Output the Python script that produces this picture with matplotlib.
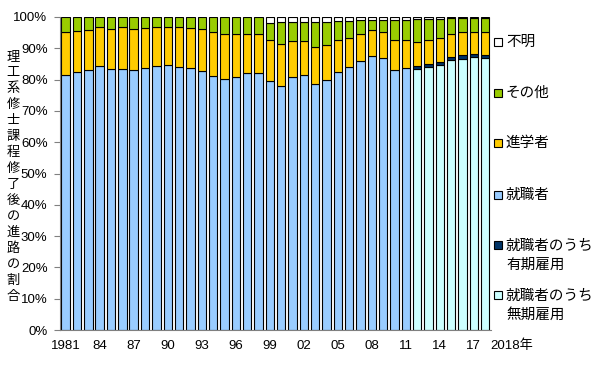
import numpy as np
import matplotlib
matplotlib.use("Agg")
import matplotlib.pyplot as plt
from matplotlib.patches import Rectangle

plt.rcParams['font.family'] = ['Liberation Sans', 'Noto Sans CJK JP']

years = np.arange(1981, 2019)

# 就職者 (until 2011, split afterwards)
shushoku = [81.6, 82.5, 83.0, 84.4, 83.5, 83.4, 83.0, 83.6, 84.3, 84.7,
            83.9, 83.7, 82.6, 81.2, 80.3, 80.9, 82.2, 82.1, 79.7, 78.1,
            80.7, 81.3, 78.7, 79.9, 82.4, 84.0, 85.8, 87.5, 87.0, 83.1,
            83.7, 0, 0, 0, 0, 0, 0, 0]
# 就職者のうち無期雇用
muki = [0] * 31 + [83.5, 84.0, 84.7, 86.1, 86.7, 87.2, 87.0]
# 就職者のうち有期雇用
yuki = [0] * 31 + [0.85, 1.1, 0.85, 1.1, 1.1, 0.85, 0.75]
shingaku = [13.6, 13.1, 12.7, 12.4, 12.7, 13.3, 13.0, 12.9, 12.4, 12.2,
            12.9, 12.9, 13.4, 14.0, 14.1, 13.6, 12.5, 12.4, 12.8, 13.1,
            11.5, 10.9, 11.7, 11.2, 10.1, 9.3, 8.6, 8.2, 8.2, 9.4,
            8.8, 7.5, 7.5, 7.8, 7.5, 7.3, 7.2, 7.3]
sonota = [4.8, 4.4, 4.3, 3.2, 3.8, 3.3, 4.0, 3.5, 3.3, 3.1,
          3.2, 3.4, 4.0, 4.8, 5.6, 5.5, 5.3, 5.5, 5.7, 7.2,
          6.2, 6.2, 8.0, 7.3, 6.2, 5.4, 4.5, 3.2, 3.7, 6.4,
          6.4, 7.5, 6.7, 6.1, 4.8, 4.4, 4.25, 4.45]
fumei = [0] * 18 + [1.8, 1.6, 1.6, 1.6, 1.6, 1.6, 1.3, 1.3, 1.1, 1.1,
                    1.1, 1.1, 1.1, 0.65, 0.7, 0.55, 0.5, 0.5, 0.5, 0.5]

tick_years = [1981, 1984, 1987, 1990, 1993, 1996, 1999, 2002, 2005, 2008, 2011, 2014, 2017]
tick_labels = ['1981', '84', '87', '90', '93', '96', '99', '02', '05', '08', '11', '14', '17']

c_shu = '#99CCFF'
c_muki = '#CCFFFF'
c_yuki = '#003366'
c_shin = '#FFCC00'
c_sono = '#99CC00'
c_fum = '#FFFFFF'

fig = plt.figure(figsize=(6, 3.68), dpi=100)
ax = fig.add_axes([0.1, 0.103, 0.718, 0.851])

w = 0.74
kw = dict(width=w, edgecolor='black', linewidth=0.8)
shu = np.array(shushoku)
mu = np.array(muki)
yu = np.array(yuki)
sh = np.array(shingaku)
so = np.array(sonota)
fu = np.array(fumei)

ax.bar(years, shu, color=c_shu, **kw)
ax.bar(years[31:], mu[31:], color=c_muki, **kw)
b = shu + mu
ax.bar(years[31:], yu[31:], bottom=b[31:], color=c_yuki, **kw)
b = b + yu
ax.bar(years, sh, bottom=b, color=c_shin, **kw)
b = b + sh
ax.bar(years, so, bottom=b, color=c_sono, **kw)
b = b + so
ax.bar(years[18:], fu[18:], bottom=b[18:], color=c_fum, **kw)

ax.set_xlim(1980.5, 2018.5)
ax.set_ylim(0, 100)
ax.set_yticks(np.arange(0, 101, 10))
ax.set_yticklabels([f'{v}%' for v in range(0, 101, 10)], fontsize=9.5)
ax.set_xticks(tick_years)
ax.set_xticklabels(tick_labels, fontsize=9.5)
ax.tick_params(axis='x', length=0, pad=7)
ax.tick_params(axis='y', length=4, color='#808080', pad=5)
ax.annotate('2018年', xy=(2018.5, 0), xycoords=('data', 'axes fraction'),
            xytext=(0, -7), textcoords='offset points',
            ha='left', va='top', fontsize=9.5)
for s in ['top', 'right']:
    ax.spines[s].set_visible(False)
ax.spines['left'].set_color('#808080')
ax.spines['bottom'].set_color('#808080')

ylabel = '理工系修士課程修了後の進路の割合'
fig.text(0.022, 0.52, '\n'.join(ylabel), ha='center', va='center',
         fontsize=9.5, linespacing=1.3, family='Noto Sans CJK JP')

# legend on the right
leg = [('不明', c_fum, 42), ('その他', c_sono, 93), ('進学者', c_shin, 143),
       ('就職者', c_shu, 195), ('就職者のうち\n有期雇用', c_yuki, 255),
       ('就職者のうち\n無期雇用', c_muki, 305)]
for lab, col, yp in leg:
    first_y = yp - 10 if '\n' in lab else yp
    fy = 1 - first_y / 368
    fig.patches.append(Rectangle((494 / 600, fy - 4 / 368), 8 / 600, 8 / 368,
                                 facecolor=col, edgecolor='black', linewidth=0.8,
                                 transform=fig.transFigure))
    fig.text(506 / 600, 1 - yp / 368, lab, ha='left', va='center',
             fontsize=10.5, linespacing=1.45, family='Noto Sans CJK JP')

fig.savefig('out.png', dpi=100)
